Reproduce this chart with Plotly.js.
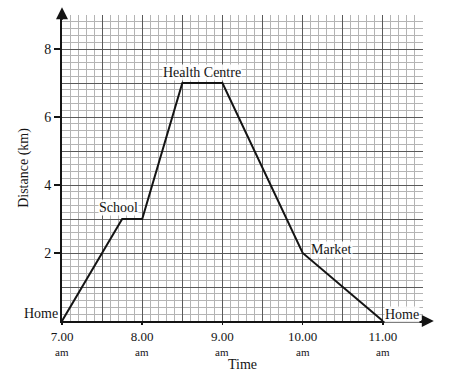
<!DOCTYPE html>
<html><head><meta charset="utf-8">
<script src="https://cdn.plot.ly/plotly-3.0.1.min.js"></script>
<style>html,body{margin:0;padding:0;background:#fff;}</style>
</head><body>
<div id="chart" style="width:461px;height:383px;"></div>
<script>
// Data (time in hours, distance in km)
const times = [7.0, 7.75, 8.0, 8.5, 9.0, 10.0, 11.0];
const distances = [0, 3, 3, 7, 7, 2, 0];
const placeNames = ["Home", "School", "Health Centre", "Market", "Home"];
const placeTimes = [7.0, 7.7, 8.75, 10.0, 11.0];
const placeDist = [0, 3, 7, 2, 0];
const xTickVals = [7, 8, 9, 10, 11];
const xTickText = ["7.00", "8.00", "9.00", "10.00", "11.00"];
const xTickSub = ["am", "am", "am", "am", "am"];
const yTickVals = [2, 4, 6, 8];

const serif = "Liberation Serif, Times New Roman, serif";
const ink = "#141414";

const labelPos = [
  {xanchor: "right", yanchor: "middle", xshift: -3, yshift: 8},
  {xanchor: "center", yanchor: "bottom", xshift: 0, yshift: 3},
  {xanchor: "center", yanchor: "bottom", xshift: 0, yshift: 2},
  {xanchor: "left", yanchor: "middle", xshift: 7, yshift: 4},
  {xanchor: "left", yanchor: "middle", xshift: 1, yshift: 7}
];

const annotations = placeNames.map((n, i) => Object.assign({
  x: placeTimes[i], y: placeDist[i], xref: "x", yref: "y",
  text: n, showarrow: false,
  font: {family: serif, size: 14, color: ink},
  bgcolor: "rgba(255,255,255,0.9)", borderpad: 0
}, labelPos[i]));

// "am" under each hour label
xTickVals.forEach((v, i) => annotations.push({
  x: v, y: 0, xref: "x", yref: "paper", yanchor: "top", yshift: -23,
  text: xTickSub[i], showarrow: false,
  font: {family: serif, size: 11, color: ink}
}));

// axis arrows
annotations.push({
  x: 0, y: 1.025, xref: "paper", yref: "paper", ax: 0, ay: 14,
  axref: "pixel", ayref: "pixel", showarrow: true, arrowhead: 2,
  arrowsize: 1.2, arrowwidth: 2, arrowcolor: ink, text: ""
});
annotations.push({
  x: 1.03, y: 0, xref: "paper", yref: "paper", ax: -14, ay: 0,
  axref: "pixel", ayref: "pixel", showarrow: true, arrowhead: 2,
  arrowsize: 1.2, arrowwidth: 2, arrowcolor: ink, text: ""
});

const traces = [
  {
    x: [7, 11.5], y: [0, 0], xaxis: "x2", yaxis: "y2", type: "scatter",
    mode: "lines", line: {width: 0}, hoverinfo: "skip", showlegend: false
  },
  {
    x: times, y: distances, type: "scatter", mode: "lines",
    line: {color: ink, width: 2}, hoverinfo: "skip", showlegend: false
  }
];

const majorGrid = "#5a5a5a";
const minorGrid = "#b4b4b4";

const layout = {
  width: 461, height: 383,
  margin: {l: 62, r: 38, t: 15, b: 62},
  paper_bgcolor: "#fff", plot_bgcolor: "#fff",
  showlegend: false,
  font: {family: serif, color: ink},
  xaxis: {
    range: [7, 11.5], tickvals: xTickVals, ticktext: xTickText,
    tickfont: {family: serif, size: 13, color: ink},
    ticks: "outside", ticklen: 2, tickwidth: 1.5, tickcolor: ink,
    showgrid: true, gridcolor: majorGrid, gridwidth: 1,
    minor: {dtick: 0.1, showgrid: true, gridcolor: minorGrid, gridwidth: 1, ticks: ""},
    showline: true, linecolor: ink, linewidth: 2, zeroline: false,
    title: {text: "Time", font: {family: serif, size: 14, color: ink}, standoff: 17},
    fixedrange: true
  },
  yaxis: {
    range: [0, 9], tickvals: yTickVals,
    tickfont: {family: serif, size: 14, color: ink},
    ticks: "outside", ticklen: 6, tickwidth: 1.5, tickcolor: ink,
    showgrid: true, gridcolor: majorGrid, gridwidth: 1,
    minor: {dtick: 0.2, showgrid: true, gridcolor: minorGrid, gridwidth: 1, ticks: ""},
    showline: true, linecolor: ink, linewidth: 2, zeroline: false,
    title: {text: "Distance (km)", font: {family: serif, size: 14, color: ink}, standoff: 12},
    fixedrange: true
  },
  xaxis2: {
    overlaying: "x", range: [7, 11.5], dtick: 0.5, tick0: 7,
    showticklabels: false, ticks: "", showgrid: true, gridcolor: majorGrid,
    gridwidth: 1, zeroline: false, showline: false, side: "bottom"
  },
  yaxis2: {
    overlaying: "y", range: [0, 9], dtick: 1, tick0: 0,
    showticklabels: false, ticks: "", showgrid: true, gridcolor: majorGrid,
    gridwidth: 1, zeroline: false, showline: false
  },
  annotations: annotations
};

Plotly.newPlot("chart", traces, layout, {staticPlot: true, displayModeBar: false});
</script>
</body></html>
